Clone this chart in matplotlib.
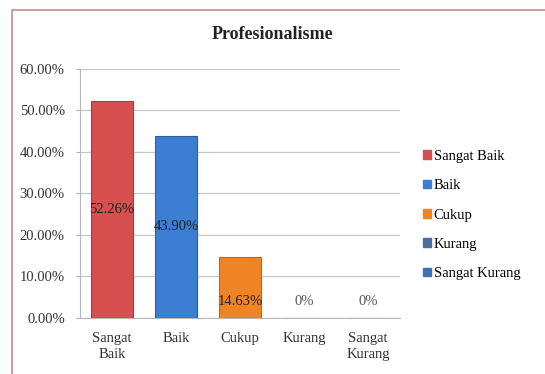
import matplotlib.pyplot as plt
from matplotlib.patches import Patch, Rectangle

plt.rcParams['font.family'] = ['Liberation Serif', 'DejaVu Serif']

categories = ["Sangat\nBaik", "Baik", "Cukup", "Kurang", "Sangat\nKurang"]
legend_names = ["Sangat Baik", "Baik", "Cukup", "Kurang", "Sangat Kurang"]
values = [52.26, 43.90, 14.63, 0, 0]
value_labels = ["52.26%", "43.90%", "14.63%", "0%", "0%"]
colors = ["#D5504E", "#3C7ED3", "#F08424", "#4A6E9E", "#3F70B6"]
edges = ["#A83C3A", "#2D5FA3", "#C46618", "#3A5A80", "#305A95"]

fig = plt.figure(figsize=(5.45, 3.74), dpi=100)
ax = fig.add_axes([0.147, 0.150, 0.587, 0.666])

# outer frame
fig.patches.append(Rectangle((0.022, -0.02), 1.2, 0.993, transform=fig.transFigure,
                             fill=False, edgecolor="#C98A8A", linewidth=1.2))

x = list(range(len(categories)))
ax.bar(x, values, width=0.66, color=colors, edgecolor=edges, linewidth=0.8, zorder=3)

for i, v in enumerate(values):
    ypos = v / 2 if v > 20 else 3.9
    ax.text(i, ypos, value_labels[i], ha="center", va="center", fontsize=10.5,
            color="#222222" if v > 0 else "#555555", zorder=4)

ax.set_xlim(-0.5, 4.5)
ax.set_ylim(0, 60)
ax.set_yticks(range(0, 61, 10))
ax.set_yticklabels(["%.2f%%" % t for t in range(0, 61, 10)], fontsize=10.5, color="#333333")
ax.set_xticks(x)
ax.set_xticklabels(categories, fontsize=10.5, color="#333333", linespacing=1.35)
ax.tick_params(axis="x", length=0, pad=10)
ax.tick_params(axis="y", length=3, color="#B0B0B0", pad=8)
ax.grid(axis="y", color="#C8C8C8", linewidth=0.9, zorder=0)
for s in ["top", "right"]:
    ax.spines[s].set_visible(False)
ax.spines["left"].set_color("#B8B8B8")
ax.spines["bottom"].set_color("#B8B8B8")

fig.text(0.5, 0.909, "Profesionalisme", ha="center", va="center",
         fontsize=13, fontweight="bold", color="#222222")

handles = [Patch(facecolor=c, edgecolor=c) for c in colors]
fig.legend(handles, legend_names, loc="center left", bbox_to_anchor=(0.762, 0.425),
           frameon=False, fontsize=10.5, handlelength=0.55, handleheight=0.55,
           handletextpad=0.2, labelspacing=1.12, borderpad=0)

fig.savefig("out.png", dpi=100)
